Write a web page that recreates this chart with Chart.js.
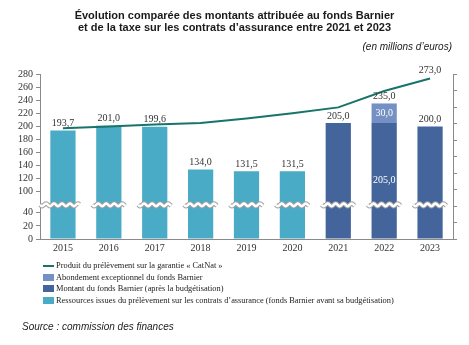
<!DOCTYPE html>
<html lang="fr">
<head>
<meta charset="utf-8">
<script src="https://cdn.jsdelivr.net/npm/chart.js@4.4.0/dist/chart.umd.min.js"></script>
<style>
  body { margin: 0; background: #fff; }
  #cadre { position: relative; width: 469px; height: 345px; overflow: hidden; }
  #graphique { position: absolute; left: 0; top: 0; }
  .txt { position: absolute; white-space: nowrap; color: #1a1a1a; }
  #titre { left: 0; width: 469px; top: 10px; text-align: center; font: bold 11px/11.6px "Liberation Sans", Arial, sans-serif; }
  #unite { right: 17px; top: 41px; font: italic 10px "Liberation Sans", Arial, sans-serif; }
  #legende { left: 43px; top: 260px; font: 8.4px/11.5px "Liberation Serif", serif; color: #222; }
  #legende div { height: 11.5px; display: flex; align-items: center; }
  #legende span.m { display: inline-block; width: 11px; height: 7px; margin-right: 2px; }
  #legende span.l { display: inline-block; width: 11px; height: 2px; margin-right: 2px; }
  #source { left: 22px; top: 321px; font: italic 10px "Liberation Sans", Arial, sans-serif; color: #222; }
</style>
</head>
<body>
<div id="cadre">
  <canvas id="graphique" width="469" height="345"></canvas>
  <div class="txt" id="titre">Évolution comparée des montants attribuée au fonds Barnier<br>et de la taxe sur les contrats d’assurance entre 2021 et 2023</div>
  <div class="txt" id="unite">(en millions d’euros)</div>
  <div class="txt" id="legende">
    <div><span class="l" style="background:#17746a"></span>Produit du prélèvement sur la garantie « CatNat »</div>
    <div><span class="m" style="background:#7590c2"></span>Abondement exceptionnel du fonds Barnier</div>
    <div><span class="m" style="background:#44659b"></span>Montant du fonds Barnier (après la budgétisation)</div>
    <div><span class="m" style="background:#4aabc6"></span>Ressources issues du prélèvement sur les contrats d’assurance (fonds Barnier avant sa budgétisation)</div>
  </div>
  <div class="txt" id="source">Source : commission des finances</div>
</div>
<script>
// données (millions d'euros)
const annees = ['2015', '2016', '2017', '2018', '2019', '2020', '2021', '2022', '2023']
const ressources = [193.7, 201.0, 199.6, 134.0, 131.5, 131.5, null, null, null]
const montant = [null, null, null, null, null, null, 205.0, 205.0, 200.0]
const abondement = [null, null, null, null, null, null, null, 30.0, null]
const catnat = [197, 200, 203, 205, 212, 220, 229, 254, 273]
const ticksBas = [0, 20, 40]
const ticksHaut = [100, 120, 140, 160, 180, 200, 220, 240, 260, 280]

// axe coupé entre 40 et 100 : on resserre l'écart
const COUPE_BAS = 40
const COUPE_HAUT = 100
const ECART = 32
function versEchelle(v) {
  if (v == null) return null
  return v <= COUPE_BAS ? v : v - COUPE_HAUT + COUPE_BAS + ECART
}
const tousTicks = ticksBas.concat(ticksHaut)
const fmt = v => v.toFixed(1).replace('.', ',')

const cTurquoise = '#4aabc6'
const cBleu = '#44659b'
const cBleuClair = '#7590c2'
const cLigne = '#17746a'
const police = '"Liberation Serif", serif'

// le segment du haut (abondement) est posé sur le montant
const abondementEchelle = abondement.map((v, i) => v == null ? null : versEchelle(v + montant[i]) - versEchelle(montant[i]))

// coupures ondulées sur les barres
const coupures = {
  id: 'coupures',
  afterDatasetsDraw(chart) {
    const ctx = chart.ctx
    const y = chart.scales.y.getPixelForValue(COUPE_BAS) - 8
    const left = chart.chartArea.left
    const meta = chart.getDatasetMeta(0)
    ctx.save()
    meta.data.forEach((bar, i) => {
      let x0 = bar.x - bar.width / 2 - 4
      const x1 = bar.x + bar.width / 2 + 4
      if (i === 0) x0 = left
      const vague = () => {
        ctx.beginPath()
        for (let x = x0; x <= x1; x += 0.5) {
          const yy = y + 1.3 * Math.sin((x - x0) / 8 * 2 * Math.PI)
          if (x === x0) ctx.moveTo(x, yy); else ctx.lineTo(x, yy)
        }
        ctx.stroke()
      }
      ctx.strokeStyle = '#a0a0a0'
      ctx.lineWidth = 4.5
      vague()
      ctx.strokeStyle = '#ffffff'
      ctx.lineWidth = 2.5
      vague()
    })
    ctx.restore()
  }
}

// étiquettes des valeurs
const etiquettes = {
  id: 'etiquettes',
  afterDatasetsDraw(chart) {
    const ctx = chart.ctx
    ctx.save()
    ctx.font = '10px ' + police
    ctx.textAlign = 'center'
    ctx.textBaseline = 'bottom'
    annees.forEach((a, i) => {
      const valeurs = [ressources[i], montant[i], abondement[i]]
      let total = 0, haut = null
      valeurs.forEach((v, d) => {
        if (v != null) { total += v; haut = chart.getDatasetMeta(d).data[i] }
      })
      if (!haut) return
      ctx.fillStyle = '#333'
      ctx.fillText(fmt(total), haut.x, haut.y - 2)
      if (abondement[i] != null) {
        ctx.fillStyle = '#ffffff'
        ctx.textBaseline = 'middle'
        const b1 = chart.getDatasetMeta(1).data[i]
        const b2 = chart.getDatasetMeta(2).data[i]
        ctx.fillText(fmt(abondement[i]), b2.x, (b2.y + b2.base) / 2)
        ctx.fillText(fmt(montant[i]), b1.x, (b1.y + b1.base) / 2)
        ctx.textBaseline = 'bottom'
      }
    })
    const ml = chart.getDatasetMeta(3)
    const der = ml.data[ml.data.length - 1]
    ctx.fillStyle = '#333'
    ctx.fillText(fmt(catnat[catnat.length - 1]), der.x, der.y - 3)
    ctx.restore()
  }
}

new Chart(document.getElementById('graphique'), {
  type: 'bar',
  data: {
    labels: annees,
    datasets: [
      { label: 'Ressources', data: ressources.map(versEchelle), backgroundColor: cTurquoise, order: 1 },
      { label: 'Montant', data: montant.map(versEchelle), backgroundColor: cBleu, order: 1 },
      { label: 'Abondement', data: abondementEchelle, backgroundColor: cBleuClair, order: 1 },
      { type: 'line', label: 'CatNat', data: catnat.map(versEchelle), borderColor: cLigne, borderWidth: 2,
        pointRadius: 0, tension: 0, fill: false, order: 0 }
    ]
  },
  options: {
    responsive: false,
    animation: false,
    layout: { padding: { top: 74, left: 0, right: 0, bottom: 0 } },
    datasets: { bar: { barPercentage: 0.55, categoryPercentage: 1 } },
    plugins: { legend: { display: false }, tooltip: { enabled: false } },
    scales: {
      x: {
        stacked: true,
        grid: { display: false, drawTicks: false },
        border: { color: '#8a8a8a' },
        ticks: { color: '#333', font: { family: police, size: 10 }, padding: 3 },
        afterFit: s => { s.height = 106 }
      },
      y: {
        stacked: true,
        min: 0,
        max: versEchelle(280),
        grid: { drawOnChartArea: false, tickLength: 4, color: '#8a8a8a' },
        border: { color: '#8a8a8a' },
        afterBuildTicks: s => { s.ticks = tousTicks.map(v => ({ value: versEchelle(v) })) },
        ticks: { autoSkip: false, color: '#333', font: { family: police, size: 10 }, padding: 3,
          callback: (v, i) => tousTicks[i] },
        afterFit: s => { s.width = 40 }
      },
      y2: {
        position: 'right',
        min: 0,
        max: 10,
        grid: { drawOnChartArea: false, tickLength: 4, color: '#8a8a8a' },
        border: { color: '#8a8a8a' },
        ticks: { display: false, stepSize: 1 },
        afterFit: s => { s.width = 16 }
      }
    }
  },
  plugins: [coupures, etiquettes]
})
</script>
</body>
</html>
